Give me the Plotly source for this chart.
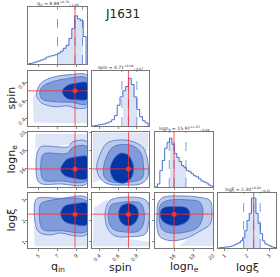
import plotly.graph_objects as go

# ---------------- data ----------------
labels = ["q<sub>in</sub>", "spin", "logn<sub>e</sub>", "logξ"]
truths = [8.84, 0.71, 15.97, 2.30]
ranges = [[3.9, 10.1], [0.32, 0.93], [14.0, 20.0], [0.7, 3.3]]
tickvals = [[5, 7, 9], [0.4, 0.6, 0.8], [16, 18, 20], [1, 2, 3]]
ticktext = [["5", "7", "9"], ["0.4", "0.6", "0.8"], ["16", "18", "20"], ["1", "2", "3"]]
titles = ["q<sub>in</sub> = 8.84<sup>+0.79</sup><sub>−1.84</sub>",
          "spin = 0.71<sup>+0.09</sup><sub>−0.07</sub>",
          "logn<sub>e</sub> = 15.97<sup>+1.23</sup><sub>−0.49</sub>",
          "logξ = 2.30<sup>+0.29</sup><sub>−0.45</sub>"]

q_edges = [4.0, 4.3, 4.6, 4.9, 5.2, 5.5, 5.8, 6.1, 6.4, 6.7, 7.0, 7.3, 7.6, 7.9, 8.2, 8.5, 8.8, 9.1, 9.4, 9.7, 10.0]
q_counts = [0.5, 1, 2, 3, 4, 5, 7, 8, 8.5, 9.5, 11, 13, 16, 19, 26, 36, 49, 46, 44, 28]
q_quant = [7.00, 8.84, 9.63]

spin_edges = [0.32, 0.35, 0.38, 0.41, 0.44, 0.47, 0.50, 0.53, 0.56, 0.59, 0.62, 0.65, 0.68, 0.71, 0.74, 0.77, 0.80, 0.83, 0.86, 0.89, 0.92]
spin_counts = [0, 0.5, 1, 1.5, 2, 3, 4, 6, 10, 20, 28, 34, 38, 46, 40, 28, 16, 9, 5, 3]
spin_quant = [0.64, 0.71, 0.80]

logn_edges = [14.0, 14.25, 14.5, 14.75, 15.0, 15.25, 15.5, 15.75, 16.0, 16.25, 16.5, 16.75, 17.0, 17.25, 17.5, 17.75, 18.0, 18.25, 18.5, 18.75, 19.0, 19.25, 19.5, 19.75, 20.0]
logn_counts = [0, 3, 16, 26, 38, 44, 48, 42, 33, 29, 25, 21, 19, 16, 15, 13, 11, 10, 8, 6, 5, 4, 2, 1]
logn_quant = [15.48, 15.97, 17.20]

logxi_edges = [0.7, 0.8, 0.9, 1.0, 1.1, 1.2, 1.3, 1.4, 1.5, 1.6, 1.7, 1.8, 1.9, 2.0, 2.1, 2.2, 2.3, 2.4, 2.5, 2.6, 2.7, 2.8, 2.9, 3.0, 3.1, 3.2, 3.3]
logxi_counts = [0, 0.5, 0.5, 1, 1, 1.5, 2, 3, 4, 5, 7, 10, 17, 27, 34, 49, 49, 34, 24, 14, 7, 4, 3, 2, 1, 0.5]
logxi_quant = [1.85, 2.30, 2.59]

hist_tops = [58, 53, 54, 54]

# 2D credible-region outlines (x list, y list) for each lower panel
A_sp = ([4.4, 4.5, 10.1, 10.1, 5.0, 4.5], [0.62, 0.36, 0.35, 0.56, 0.58, 0.70])
A_out = ([4.79, 5.21, 5.92, 6.97, 8.37, 10.1, 10.1, 9.07, 8.02, 6.97, 5.92, 5.21, 4.79],
         [0.686, 0.788, 0.839, 0.872, 0.890, 0.883, 0.533, 0.515, 0.543, 0.533, 0.549, 0.584, 0.651])
A_mid = ([5.14, 5.39, 6.26, 7.66, 10.1, 10.1, 8.37, 6.61, 5.39],
         [0.686, 0.753, 0.804, 0.839, 0.849, 0.566, 0.584, 0.590, 0.617])
A_in = ([7.49, 8.02, 9.07, 10.1, 10.1, 9.07, 8.02],
        [0.702, 0.770, 0.798, 0.798, 0.617, 0.610, 0.624])

B_sp = ([4.6, 4.7, 10.1, 10.1, 4.8], [17.5, 19.8, 19.8, 18.8, 18.3])
B_out = ([4.86, 5.21, 6.79, 8.16, 8.58, 10.1, 10.1, 7.32, 5.21, 4.86, 4.74],
         [17.71, 18.37, 18.4, 18.4, 18.91, 18.94, 14.39, 14.33, 14.39, 14.88, 16.4])
B_mid = ([5.39, 5.74, 8.02, 8.58, 10.1, 10.1, 7.32, 5.63, 5.32],
         [17.38, 17.68, 17.68, 18.31, 18.4, 14.7, 14.66, 14.71, 15.2])
B_in = ([7.32, 7.63, 8.05, 9.07, 10.1, 10.1, 8.72, 7.66],
        [15.93, 16.62, 17.06, 17.31, 17.31, 14.93, 14.95, 15.31])

C_sp = ([4.5, 4.6, 10.1, 10.1], [1.7, 0.78, 0.78, 1.4])
C_out = ([4.68, 5.0, 7.32, 10.1, 10.1, 8.89, 7.32, 6.26, 5.21, 4.74],
         [2.95, 3.07, 3.05, 3.07, 1.36, 1.27, 1.41, 1.32, 1.41, 1.68])
C_mid = ([5.21, 5.63, 10.1, 10.1, 7.32, 5.53, 5.21],
         [2.77, 2.89, 2.91, 1.50, 1.52, 1.55, 1.77])
C_in = ([7.32, 7.74, 8.89, 10.1, 10.1, 8.89, 7.74],
        [2.32, 2.68, 2.80, 2.80, 1.80, 1.80, 1.95])

D_sp = ([0.33, 0.33, 0.92, 0.92, 0.45], [14.4, 19.95, 19.95, 18.0, 15.0])
D_out = ([0.370, 0.405, 0.478, 0.622, 0.762, 0.870, 0.914, 0.914, 0.838, 0.676, 0.492, 0.405],
         [16.22, 17.49, 18.77, 19.13, 18.94, 18.26, 16.95, 14.99, 14.33, 14.22, 14.33, 14.99])
D_mid = ([0.441, 0.470, 0.549, 0.730, 0.838, 0.870, 0.859, 0.730, 0.535, 0.459],
         [15.67, 17.17, 18.40, 18.58, 17.82, 16.40, 14.99, 14.55, 14.55, 14.99])
D_in = ([0.514, 0.546, 0.622, 0.708, 0.765, 0.741, 0.657, 0.557],
        [15.86, 16.95, 17.68, 17.49, 16.22, 14.99, 14.41, 14.77])

E_sp = ([0.33, 0.34, 0.48, 0.60, 0.93, 0.93], [0.78, 2.6, 3.0, 1.2, 1.0, 0.78])
E_out = ([0.459, 0.481, 0.514, 0.622, 0.730, 0.859, 0.924, 0.924, 0.892, 0.730, 0.568, 0.492],
         [2.195, 2.727, 2.955, 3.09, 3.105, 3.045, 2.818, 1.818, 1.364, 1.227, 1.273, 1.591])
E_mid = ([0.495, 0.524, 0.600, 0.730, 0.838, 0.874, 0.870, 0.816, 0.676, 0.546, 0.503],
         [2.273, 2.727, 2.832, 2.886, 2.818, 2.5, 1.818, 1.5, 1.455, 1.591, 1.909])
E_in = ([0.603, 0.632, 0.711, 0.784, 0.819, 0.784, 0.711, 0.632],
        [2.305, 2.682, 2.805, 2.682, 2.305, 1.909, 1.741, 1.909])

F_sp = ([16.5, 20.0, 20.0, 19.5], [0.8, 0.8, 2.4, 2.0])
F_out = ([14.21, 14.31, 14.83, 16.59, 18.65, 19.69, 19.89, 19.69, 18.65, 17.10, 15.55, 14.52, 14.21],
         [2.27, 2.82, 3.09, 3.16, 3.09, 2.95, 2.5, 1.82, 1.5, 1.14, 1.05, 1.23, 1.68])
F_mid = ([14.41, 14.62, 15.34, 17.10, 18.65, 18.96, 18.45, 17.10, 15.55, 14.72],
         [2.27, 2.77, 2.95, 2.98, 2.86, 2.27, 1.68, 1.45, 1.41, 1.59])
F_in = ([14.52, 14.83, 16.07, 17.31, 17.62, 17.31, 16.07, 14.83],
        [2.30, 2.59, 2.66, 2.59, 2.30, 1.95, 1.75, 1.95])

hists = [(q_edges, q_counts, q_quant), (spin_edges, spin_counts, spin_quant),
         (logn_edges, logn_counts, logn_quant), (logxi_edges, logxi_counts, logxi_quant)]
panels2d = {(1, 0): (A_sp, A_out, A_mid, A_in), (2, 0): (B_sp, B_out, B_mid, B_in),
            (3, 0): (C_sp, C_out, C_mid, C_in), (2, 1): (D_sp, D_out, D_mid, D_in),
            (3, 1): (E_sp, E_out, E_mid, E_in), (3, 2): (F_sp, F_out, F_mid, F_in)}

# ---------------- styling ----------------
W, H = 280, 277
col_px = [(28, 87), (92, 149), (155, 213), (218, 276)]
row_px = [(7, 64), (71, 126), (132, 187), (193, 248)]
LINE = "#4670cc"
OUT_F, MID_F, IN_F = "#bccaeb", "#809bd9", "#0636a3"
SPK = "rgba(90,125,215,0.20)"
RED = "#ff2d2d"
FRAME = "#555555"

fig = go.Figure()
layout = {}
ann = []
k = 0
for r in range(4):
    for c in range(r + 1):
        k += 1
        xa = "x" if k == 1 else f"x{k}"
        ya = "y" if k == 1 else f"y{k}"
        xkey = "xaxis" if k == 1 else f"xaxis{k}"
        ykey = "yaxis" if k == 1 else f"yaxis{k}"
        x0, x1 = col_px[c]
        y0, y1 = row_px[r]
        common = dict(showgrid=False, zeroline=False, showline=True, mirror=True,
                      linecolor=FRAME, linewidth=0.8, ticks="outside", ticklen=2,
                      tickcolor=FRAME, tickwidth=0.7, automargin=False,
                      tickfont=dict(size=5, color="#333", family="DejaVu Sans"),
                      tickangle=-45)
        layout[xkey] = dict(common, domain=[x0 / W, x1 / W], anchor=ya, range=ranges[c],
                            tickvals=tickvals[c], ticktext=ticktext[c],
                            showticklabels=(r == 3))
        if r == c:
            layout[ykey] = dict(common, domain=[1 - y1 / H, 1 - y0 / H], anchor=xa,
                                range=[0, hist_tops[c]], ticks="", showticklabels=False)
            edges, counts, quant = hists[c]
            bx, by, bw = [], [], []
            for i in range(len(counts)):
                mid = 0.5 * (edges[i] + edges[i + 1])
                if quant[0] <= mid <= quant[2]:
                    bx.append(mid); by.append(counts[i]); bw.append(edges[i + 1] - edges[i])
            fig.add_trace(go.Bar(x=bx, y=by, width=bw, marker=dict(color="#dbe3f6", line_width=0),
                                 xaxis=xa, yaxis=ya, showlegend=False))
            sx = [edges[0]] + edges[:-1] + [edges[-1], edges[-1]]
            sy = [0] + counts + [counts[-1], 0]
            fig.add_trace(go.Scatter(x=sx, y=sy, mode="lines", line=dict(color=LINE, width=1, shape="hv"),
                                     xaxis=xa, yaxis=ya, showlegend=False))
            for qv in quant:
                fig.add_trace(go.Scatter(x=[qv, qv], y=[0, hist_tops[c]], mode="lines",
                                         line=dict(color=LINE, width=0.7, dash="dash"),
                                         xaxis=xa, yaxis=ya, showlegend=False))
            fig.add_trace(go.Scatter(x=[truths[c], truths[c]], y=[0, hist_tops[c]], mode="lines",
                                     line=dict(color=RED, width=0.8), xaxis=xa, yaxis=ya, showlegend=False))
            ann.append(dict(x=(x0 + x1) / 2 / W, y=1 - (y0 - 3.5) / H, xref="paper", yref="paper",
                            text=titles[c], showarrow=False, xanchor="center", yanchor="middle",
                            font=dict(size=4.5, color="#333", family="DejaVu Sans")))
        else:
            layout[ykey] = dict(common, domain=[1 - y1 / H, 1 - y0 / H], anchor=xa, range=ranges[r],
                                tickvals=tickvals[r], ticktext=ticktext[r],
                                showticklabels=(c == 0))
            sp, out, mid, inn = panels2d[(r, c)]
            fig.add_trace(go.Scatter(x=sp[0], y=sp[1], fill="toself", fillcolor=SPK, mode="lines",
                                     line=dict(width=0), xaxis=xa, yaxis=ya, showlegend=False))
            for poly, fc in ((out, OUT_F), (mid, MID_F), (inn, IN_F)):
                fig.add_trace(go.Scatter(x=poly[0] + [poly[0][0]], y=poly[1] + [poly[1][0]],
                                         fill="toself", fillcolor=fc, mode="lines",
                                         line=dict(color=LINE, width=0.8, shape="spline", smoothing=1.0),
                                         xaxis=xa, yaxis=ya, showlegend=False))
            fig.add_trace(go.Scatter(x=[truths[c], truths[c]], y=ranges[r], mode="lines",
                                     line=dict(color=RED, width=0.8), xaxis=xa, yaxis=ya, showlegend=False))
            fig.add_trace(go.Scatter(x=ranges[c], y=[truths[r], truths[r]], mode="lines",
                                     line=dict(color=RED, width=0.8), xaxis=xa, yaxis=ya, showlegend=False))
            fig.add_trace(go.Scatter(x=[truths[c]], y=[truths[r]], mode="markers",
                                     marker=dict(color=RED, size=5), xaxis=xa, yaxis=ya, showlegend=False))

# axis labels
for c in range(4):
    x0, x1 = col_px[c]
    ann.append(dict(x=(x0 + x1) / 2 / W, y=1 - 267 / H, xref="paper", yref="paper", text=labels[c],
                    showarrow=False, xanchor="center", yanchor="middle",
                    font=dict(size=11, color="#222", family="DejaVu Sans")))
for r in range(1, 4):
    y0, y1 = row_px[r]
    ann.append(dict(x=11 / W, y=1 - (y0 + y1) / 2 / H, xref="paper", yref="paper", text=labels[r],
                    showarrow=False, xanchor="center", yanchor="middle", textangle=-90,
                    font=dict(size=11, color="#222", family="DejaVu Sans")))
ann.append(dict(x=122 / W, y=1 - 14 / H, xref="paper", yref="paper", text="J1631", showarrow=False,
                xanchor="center", yanchor="middle", font=dict(size=12, color="#222", family="DejaVu Sans")))

fig.update_layout(width=W, height=H, margin=dict(l=0, r=0, t=0, b=0),
                  paper_bgcolor="white", plot_bgcolor="white", annotations=ann,
                  barmode="overlay", bargap=0, hovermode=False, **layout)
fig.write_html("out.html", config={"displayModeBar": False, "staticPlot": True},
               post_script="document.body.style.margin='0';document.body.style.overflow='hidden';")
